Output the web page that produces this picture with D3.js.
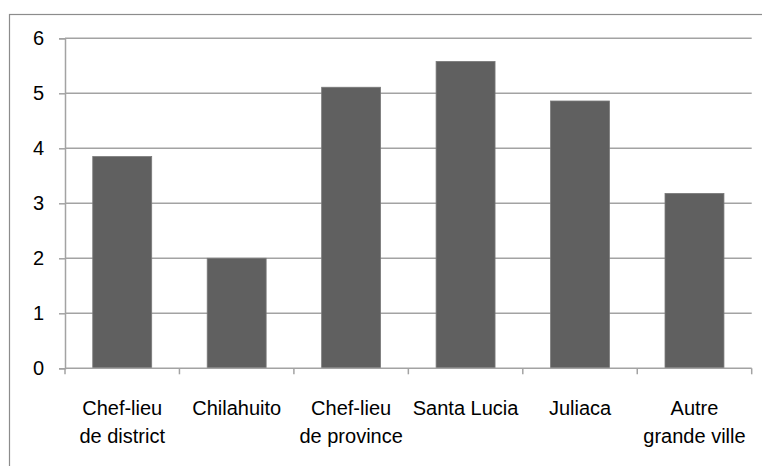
<!DOCTYPE html>
<html><head><meta charset="utf-8">
<script src="https://cdn.jsdelivr.net/npm/d3@7"></script>
<style>body{margin:0;background:#fff}svg{display:block}</style>
</head><body>
<script>
const categories = [["Chef-lieu","de district"],["Chilahuito"],["Chef-lieu","de province"],["Santa Lucia"],["Juliaca"],["Autre","grande ville"]];
const values = [3.85, 2.0, 5.11, 5.58, 4.86, 3.18];
const yTicks = [0,1,2,3,4,5,6];

const W = 762, H = 466;
const svg = d3.select("body").append("svg").attr("width", W).attr("height", H);
const font = "'Liberation Sans', Arial, sans-serif";

// outer border (top and left visible)
svg.append("rect").attr("x", 9.5).attr("y", 14.5).attr("width", 800).attr("height", 500)
  .attr("fill", "none").attr("stroke", "#8c8c8c").attr("stroke-width", 1.2);

const x0 = 65, x1 = 751.7, yTop = 38.3, yBot = 368.3;
const x = d3.scaleBand().domain(d3.range(categories.length)).range([x0, x1]).paddingInner(0.485).paddingOuter(0.2425);
const xb = d3.scaleBand().domain(d3.range(categories.length)).range([x0, x1]);
const y = d3.scaleLinear().domain([0, 6]).range([yBot, yTop]);

// gridlines
svg.append("g").selectAll("line").data(yTicks.filter(d => d > 0)).join("line")
  .attr("x1", x0).attr("x2", x1).attr("y1", d => y(d)).attr("y2", d => y(d))
  .attr("stroke", "#a3a3a3").attr("stroke-width", 1.5);

// y axis
const yAxis = d3.axisLeft(y).tickValues(yTicks).tickSize(6).tickPadding(15).tickFormat(d3.format("d"));
const gy = svg.append("g").attr("transform", `translate(${x0},0)`).call(yAxis);
gy.select(".domain").attr("stroke", "#a3a3a3").attr("stroke-width", 1.5);
gy.selectAll(".tick line").attr("stroke", "#a3a3a3").attr("stroke-width", 1.5);
gy.selectAll(".tick text").attr("font-family", font).attr("font-size", 20).attr("fill", "#000");

// bars
svg.append("g").selectAll("rect").data(values).join("rect")
  .attr("x", (d, i) => x(i)).attr("width", x.bandwidth())
  .attr("y", d => y(d)).attr("height", d => y(0) - y(d))
  .attr("fill", "#606060").attr("stroke", "#7a7a7a").attr("stroke-width", 0.8);

// x axis
const xAxis = d3.axisBottom(xb).tickSize(0).tickFormat(() => "");
const gx = svg.append("g").attr("transform", `translate(0,${yBot})`).call(xAxis);
gx.select(".domain").remove();
svg.append("line").attr("x1", x0).attr("x2", x1).attr("y1", yBot).attr("y2", yBot)
  .attr("stroke", "#a3a3a3").attr("stroke-width", 1.5);
svg.append("g").selectAll("line").data(d3.range(categories.length + 1)).join("line")
  .attr("x1", i => x0 + i * xb.bandwidth()).attr("x2", i => x0 + i * xb.bandwidth())
  .attr("y1", yBot).attr("y2", yBot + 6).attr("stroke", "#a3a3a3").attr("stroke-width", 1.5);

// category labels
const lab = svg.append("g").selectAll("text").data(categories).join("text")
  .attr("x", (d, i) => xb(i) + xb.bandwidth() / 2).attr("y", 415)
  .attr("text-anchor", "middle").attr("font-family", font).attr("font-size", 20).attr("fill", "#000");
lab.each(function(d) {
  const t = d3.select(this);
  d.forEach((s, k) => t.append("tspan").attr("x", t.attr("x")).attr("dy", k === 0 ? 0 : 28).text(s));
});
</script>
</body></html>
